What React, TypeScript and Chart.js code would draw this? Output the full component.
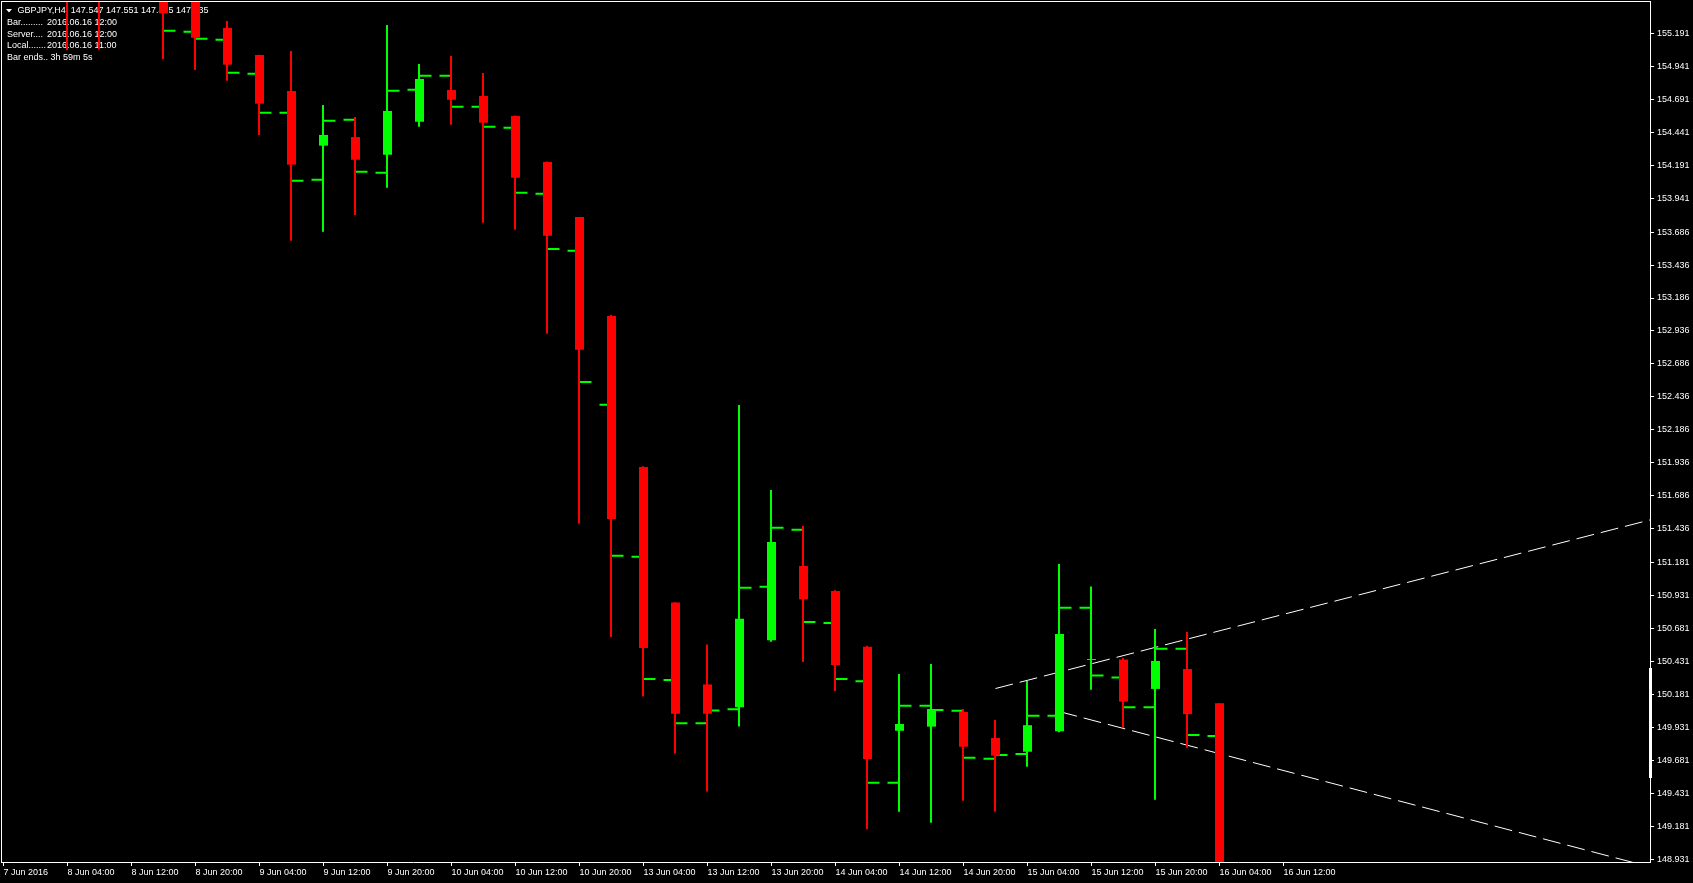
import React, { useEffect, useRef } from "react";
import { Chart, registerables } from "chart.js";

Chart.register(...registerables);

// ---------------- data ----------------
// H4 bars of GBPJPY, bar index 2 .. 38 (index 0 = 7 Jun 20:00 at the left edge)
const firstBarIndex = 2;
const barTimes = [
  "8 Jun 04:00", "8 Jun 08:00", "8 Jun 12:00", "8 Jun 16:00", "8 Jun 20:00",
  "9 Jun 00:00", "9 Jun 04:00", "9 Jun 08:00", "9 Jun 12:00", "9 Jun 16:00", "9 Jun 20:00",
  "10 Jun 00:00", "10 Jun 04:00", "10 Jun 08:00", "10 Jun 12:00", "10 Jun 16:00", "10 Jun 20:00",
  "13 Jun 00:00", "13 Jun 04:00", "13 Jun 08:00", "13 Jun 12:00", "13 Jun 16:00", "13 Jun 20:00",
  "14 Jun 00:00", "14 Jun 04:00", "14 Jun 08:00", "14 Jun 12:00", "14 Jun 16:00", "14 Jun 20:00",
  "15 Jun 00:00", "15 Jun 04:00", "15 Jun 08:00", "15 Jun 12:00", "15 Jun 16:00", "15 Jun 20:00",
  "16 Jun 00:00", "16 Jun 04:00",
];
const opens = [
  155.8, 155.6, 155.5, 155.6, 155.5, 155.233, 155.028, 154.755, 154.341, 154.406,
  154.272, 154.522, 154.763, 154.717, 154.566, 154.217, 153.8, 153.05, 151.905, 150.878,
  150.257, 150.084, 150.592, 151.155, 150.965, 150.543, 149.906, 149.937, 150.048, 149.851,
  149.747, 149.903, 150.442, 150.446, 150.223, 150.374, 150.115,
];
const highs = [
  155.95, 155.85, 155.7, 155.68, 155.58, 155.286, 155.03, 155.058, 154.649, 154.558,
  155.255, 154.96, 155.02, 154.892, 154.57, 154.22, 153.8, 153.06, 151.91, 150.88,
  150.559, 152.375, 151.731, 151.458, 150.97, 150.55, 150.336, 150.412, 150.07, 149.987,
  150.283, 151.17, 150.999, 150.457, 150.678, 150.655, 150.115,
];
const lows = [
  155.066, 155.07, 155.46, 154.998, 154.914, 154.833, 154.422, 153.62, 153.689, 153.815,
  154.022, 154.485, 154.5, 153.757, 153.704, 152.915, 151.475, 150.617, 150.166, 149.733,
  149.446, 149.938, 150.58, 150.428, 150.207, 149.16, 149.292, 149.209, 149.376, 149.292,
  149.634, 149.894, 150.217, 149.926, 149.383, 149.778, 147.435,
];
const closes = [
  155.55, 155.47, 155.62, 155.344, 155.159, 154.955, 154.659, 154.197, 154.422, 154.234,
  154.604, 154.846, 154.689, 154.515, 154.098, 153.658, 152.794, 151.511, 150.533, 150.035,
  150.035, 150.755, 151.337, 150.903, 150.404, 149.692, 149.957, 150.071, 149.785, 149.717,
  149.948, 150.64, 150.442, 150.127, 150.435, 150.032, 147.435,
];

// indicator: between bar i and bar i+1 a dash at the level "after bar i" and a dash at the level "before bar i+1"
const indFirstBar = 5;
const indStart = [
  155.212, 155.152, 154.894, 154.591, 154.075, 154.53, 154.143, 154.757, 154.871, 154.636,
  154.485, 153.984, 153.558, 152.55, 151.233, 150.298, 149.962, 150.06, 150.99, 151.445,
  150.731, 150.298, 149.511, 150.096, 150.063, 149.702, 149.722, 150.02, 150.839, 150.324,
  150.084, 150.528, 149.874,
];
const indEnd = [
  155.205, 155.144, 154.886, 154.591, 154.083, 154.538, 154.136, 154.765, 154.871, 154.636,
  154.477, 153.977, 153.545, 152.377, 151.225, 150.29, 149.962, 150.068, 150.998, 151.43,
  150.723, 150.281, 149.512, 150.096, 150.058, 149.694, 149.73, 150.02, 150.839, 150.309,
  150.084, 150.528, 149.866,
];

// trend lines (bar index, price)
const upperLineX = [31, 52];
const upperLineY = [150.226, 151.538];
const lowerLineX = [33, 52];
const lowerLineY = [150.051, 148.839];

// axes
const xTickIndex = [0, 2, 4, 6, 8, 10, 12, 14, 16, 18, 20, 22, 24, 26, 28, 30, 32, 34, 36, 38, 40];
const xTickLabels = [
  "7 Jun 2016", "8 Jun 04:00", "8 Jun 12:00", "8 Jun 20:00", "9 Jun 04:00", "9 Jun 12:00",
  "9 Jun 20:00", "10 Jun 04:00", "10 Jun 12:00", "10 Jun 20:00", "13 Jun 04:00", "13 Jun 12:00",
  "13 Jun 20:00", "14 Jun 04:00", "14 Jun 12:00", "14 Jun 20:00", "15 Jun 04:00", "15 Jun 12:00",
  "15 Jun 20:00", "16 Jun 04:00", "16 Jun 12:00",
];
const yTickValues = [
  155.191, 154.941, 154.691, 154.441, 154.191, 153.941, 153.686, 153.436, 153.186, 152.936,
  152.686, 152.436, 152.186, 151.936, 151.686, 151.436, 151.181, 150.931, 150.681, 150.431,
  150.181, 149.931, 149.681, 149.431, 149.181, 148.931,
];
const xMin = -0.078125;
const xMax = 51.453125;
const yMin = 148.9111;
const yMax = 155.4373;
const axisMarkRange = [150.382, 149.548];

// header texts
const headerSymbol = "GBPJPY,H4";
const headerPrices = "147.547 147.551 147.435 147.435";
const infoLabels = ["Bar.........", "Server....", "Local.......", "Bar ends.."];
const infoValues = ["2016.06.16 12:00", "2016.06.16 12:00", "2016.06.16 11:00", "3h 59m 5s"];

// ---------------- styles ----------------
const BULL = "#00ff00";
const BEAR = "#ff0000";
const FONT = '"Liberation Sans", Arial, sans-serif';
const wickShift = -0.5 / 32; // half a pixel, keeps 2px wicks crisp

Chart.defaults.font.family = FONT;
Chart.defaults.color = "#ffffff";

const overlayPlugin = {
  id: "mt4overlay",
  beforeDatasetsDraw(chart: any) {
    const ctx = chart.ctx;
    ctx.save();
    ctx.fillStyle = "#ffffff";
    ctx.font = `9px ${FONT}`;
    ctx.textBaseline = "middle";
    ctx.beginPath();
    ctx.moveTo(6, 9);
    ctx.lineTo(12, 9);
    ctx.lineTo(9, 12.5);
    ctx.closePath();
    ctx.fill();
    ctx.fillText(headerSymbol + "  " + headerPrices, 17.5, 11);
    const rows = [23, 34.5, 46, 57.5];
    infoLabels.forEach((lab, k) => {
      if (k < 3) {
        ctx.fillText(lab, 7, rows[k]);
        ctx.fillText(infoValues[k], 47, rows[k]);
      } else {
        ctx.fillText(lab + " " + infoValues[k], 7, rows[k]);
      }
    });
    ctx.restore();
  },
  afterDatasetsDraw(chart: any) {
    const ctx = chart.ctx;
    const a = chart.chartArea;
    const y = chart.scales.y;
    ctx.save();
    ctx.fillStyle = "#ffffff";
    ctx.fillRect(a.left, a.top, a.right - a.left, 1);
    ctx.fillRect(a.left, a.top, 1, a.bottom - a.top);
    const y1 = y.getPixelForValue(axisMarkRange[0]);
    const y2 = y.getPixelForValue(axisMarkRange[1]);
    ctx.fillRect(a.right - 1, Math.round(y1), 3, Math.round(y2 - y1));
    ctx.restore();
  },
};

export default function App() {
  const ref = useRef<HTMLCanvasElement | null>(null);

  useEffect(() => {
    const canvas = ref.current;
    if (!canvas) return;

    const bodyData = barTimes.map((_, k) => ({ x: firstBarIndex + k, y: [opens[k], closes[k]] }));
    const bodyColors = barTimes.map((_, k) => (closes[k] < opens[k] ? BEAR : BULL));
    const wickData = barTimes.map((_, k) => ({ x: firstBarIndex + k + wickShift, y: [lows[k], highs[k]] }));

    // each half-step is its own sub-path: start level drawn rightwards from bar i,
    // end level drawn leftwards from bar i+1, so the dash pattern starts at each bar
    const indData: any[] = [];
    indStart.forEach((a, k) => {
      const i = indFirstBar + k;
      indData.push(
        { x: i, y: a }, { x: i + 0.5, y: a }, { x: i + 0.5, y: null },
        { x: i + 1, y: indEnd[k] }, { x: i + 0.5, y: indEnd[k] }, { x: i + 0.5, y: null },
      );
    });

    const chart = new Chart(canvas, {
      type: "bar",
      data: {
        datasets: [
          {
            type: "line",
            data: upperLineX.map((x, k) => ({ x, y: upperLineY[k] })),
            borderColor: "#ffffff",
            borderWidth: 1,
            borderDash: [18, 7],
            pointRadius: 0,
            order: 5,
            clip: 0,
          } as any,
          {
            type: "line",
            data: lowerLineX.map((x, k) => ({ x, y: lowerLineY[k] })),
            borderColor: "#ffffff",
            borderWidth: 1,
            borderDash: [18, 7],
            pointRadius: 0,
            order: 4,
            clip: 0,
          } as any,
          {
            type: "line",
            data: indData,
            borderColor: BULL,
            borderWidth: 2,
            borderDash: [12, 8],
            pointRadius: 0,
            spanGaps: false,
            order: 3,
            clip: 0,
          } as any,
          {
            type: "bar",
            data: wickData,
            backgroundColor: bodyColors,
            barThickness: 2,
            grouped: false,
            borderWidth: 0,
            inflateAmount: 0,
            order: 2,
            clip: 0,
          } as any,
          {
            type: "bar",
            data: bodyData,
            backgroundColor: bodyColors,
            barThickness: 9,
            grouped: false,
            borderWidth: 0,
            inflateAmount: 0,
            minBarLength: 1,
            order: 1,
            clip: 0,
          } as any,
        ],
      },
      options: {
        responsive: false,
        animation: false,
        devicePixelRatio: 1,
        events: [],
        layout: { padding: { left: 1, top: 1, right: 0, bottom: 0 } },
        plugins: { legend: { display: false }, tooltip: { enabled: false } },
        scales: {
          x: {
            type: "linear",
            position: "bottom",
            min: xMin,
            max: xMax,
            offset: false,
            afterBuildTicks: (s: any) => {
              s.ticks = xTickIndex.map((v) => ({ value: v }));
            },
            afterFit: (s: any) => {
              s.height = 21;
              s.paddingLeft = 0;
              s.paddingRight = 0;
            },
            ticks: {
              autoSkip: false,
              maxRotation: 0,
              minRotation: 0,
              align: "start",
              padding: 1,
              color: "#ffffff",
              font: { size: 9, family: FONT },
              callback: (_v: any, i: number) => xTickLabels[i],
            },
            grid: { display: true, drawOnChartArea: false, drawTicks: true, tickLength: 4, color: "#ffffff", offset: false },
            border: { display: true, color: "#ffffff", width: 1 },
          },
          y: {
            type: "linear",
            position: "right",
            min: yMin,
            max: yMax,
            afterBuildTicks: (s: any) => {
              s.ticks = yTickValues.map((v) => ({ value: v }));
            },
            afterFit: (s: any) => {
              s.width = 43;
              s.paddingTop = 0;
              s.paddingBottom = 0;
            },
            ticks: {
              padding: 3,
              color: "#ffffff",
              font: { size: 9, family: FONT },
              callback: (v: any) => Number(v).toFixed(3),
            },
            grid: { drawOnChartArea: false, drawTicks: true, tickLength: 4, color: "#ffffff" },
            border: { display: true, color: "#ffffff", width: 1 },
          },
        },
      } as any,
      plugins: [overlayPlugin],
    });

    return () => chart.destroy();
  }, []);

  return (
    <div style={{ position: "fixed", left: 0, top: 0, width: 1693, height: 883, background: "#000", overflow: "hidden" }}>
      <canvas ref={ref} width={1693} height={883} style={{ display: "block", width: 1693, height: 883 }} />
    </div>
  );
}
